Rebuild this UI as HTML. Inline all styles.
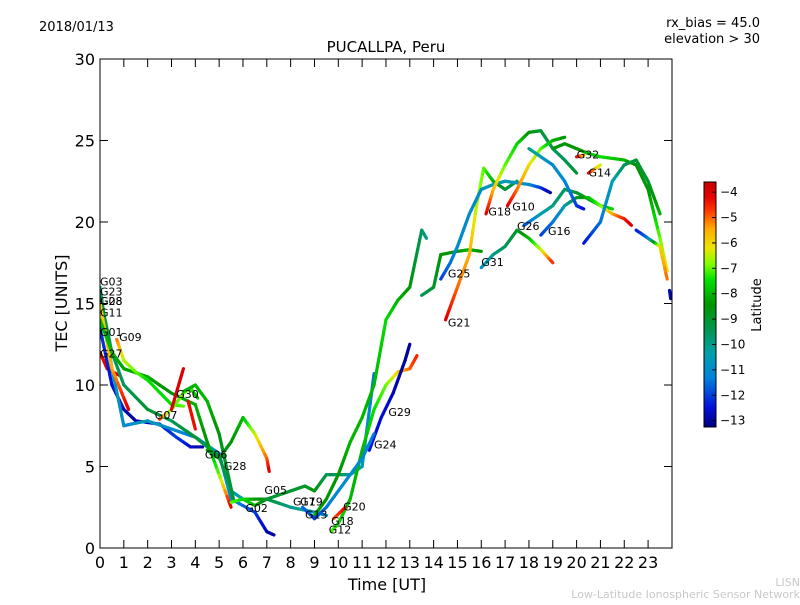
<!DOCTYPE html>
<html><head><meta charset="utf-8"><style>
body{margin:0;background:#fff;}
svg text{font-family:"DejaVu Sans","Liberation Sans",sans-serif;}
</style></head><body>
<svg id="chart" width="800" height="600" xmlns="http://www.w3.org/2000/svg">
<defs>
<linearGradient id="jet" x1="0" y1="1" x2="0" y2="0"></linearGradient>
<clipPath id="pc"><rect x="100" y="59" width="572" height="489"/></clipPath>
</defs>
<rect width="800" height="600" fill="#fff"/>
<text x="39" y="31" font-size="13">2018/01/13</text>
<text x="760" y="27" font-size="13" text-anchor="end">rx_bias = 45.0</text>
<text x="760" y="43" font-size="13" text-anchor="end">elevation &gt; 30</text>
<text x="386" y="52" font-size="15" text-anchor="middle">PUCALLPA, Peru</text>
<g id="marks" clip-path="url(#pc)"></g>
<g id="labels"></g>
<rect x="100" y="59" width="572" height="489" fill="none" stroke="#000" stroke-width="1"/>
<g id="axes"></g>
<text x="387" y="590" font-size="16" text-anchor="middle">Time [UT]</text>
<text transform="translate(67,303) rotate(-90)" font-size="16" text-anchor="middle">TEC [UNITS]</text>
<rect x="704" y="182" width="12" height="245" fill="url(#jet)" stroke="#000" stroke-width="1"/>
<g id="cbticks"></g>
<text transform="translate(761,305) rotate(-90)" font-size="13" text-anchor="middle">Latitude</text>
<text x="800" y="586" font-size="11" fill="#c8c8c8" text-anchor="end">LISN</text>
<text x="800" y="598" font-size="11" fill="#c8c8c8" text-anchor="end">Low-Latitude Ionospheric Sensor Network</text>
</svg>
<script>
const xTicks=[0,1,2,3,4,5,6,7,8,9,10,11,12,13,14,15,16,17,18,19,20,21,22,23];
const yTicks=[0,5,10,15,20,25,30];
const cbTicks=[-4,-5,-6,-7,-8,-9,-10,-11,-12,-13];
const latMin=-13.25, latMax=-3.6;
const tracks=[
{t:[0,0.3,0.8],v:[12,11,10.6],lat:[-4.5,-4,-4]},
{t:[0,0.5,1,1.5,2.5,3.2,3.8,4.3],v:[13.5,10,8.5,7.8,7.6,6.8,6.2,6.2],lat:[-12,-12.5,-12.8,-13,-12.5,-12,-12.5,-13]},
{t:[0,0.5,1,1.3,2,3,4,5,5.5,6.5,7,7.3],v:[16,11,7.5,7.6,7.8,7.3,6.8,5.8,3,2.2,1,0.8],lat:[-10,-10.5,-11,-11,-10.5,-11,-11.5,-10.5,-11,-12,-12.8,-13]},
{t:[0,0.5,1,2,3,4,4.5,5,5.5,6],v:[15.5,12,10,8.5,7.8,6.8,6.2,5.6,3.5,3],lat:[-9,-9.5,-9.5,-9,-9.5,-9,-9.5,-9,-10,-10.5]},
{t:[0,0.5,1,1.2],v:[15,11,9.2,8.5],lat:[-6,-5.5,-4.5,-4]},
{t:[0,0.5,1,2,3,4,4.5,5,5.5],v:[14,12,11,10.5,9.5,8.8,6.5,4.5,2.5],lat:[-8,-8,-8.3,-8.2,-8.5,-8,-8.5,-7,-4]},
{t:[0.7,1,1.5,2,3,3.5],v:[12.8,11.5,10.8,10.3,8.8,8.7],lat:[-5,-6.5,-7,-7.5,-7.5,-7]},
{t:[2.5,3,3.5,3.8,4.1],v:[7.9,8.5,9.5,9.8,9.2],lat:[-4.5,-7,-7,-7,-8]},
{t:[3,3.5],v:[8.5,11],lat:[-4,-4]},
{t:[3.7,4],v:[9,7.3],lat:[-4.3,-4.3]},
{t:[4.5,5,5.5,6,6.5,7,7.1],v:[6,5.5,6.5,8,7,5.5,4.7],lat:[-8.5,-9,-8.5,-8,-6.5,-5,-4]},
{t:[3.5,4,4.5,5,5.3,5.6],v:[9.6,10,9,7,5,3],lat:[-8,-8,-8,-8.5,-9,-9]},
{t:[6,7,8,8.6,9,9.5,10,10.5,11,11.5],v:[3,3,3.5,3.8,3.5,4.5,4.5,4.5,5,10.7],lat:[-7.5,-9,-9,-9,-8.5,-9.5,-9.5,-10,-10.5,-11.5]},
{t:[5.5,6,6.5,7,8,9,9.5],v:[2.8,3,2.6,3,2.5,2.2,2],lat:[-7,-7.5,-8,-9,-10,-10.5,-11]},
{t:[9,9.5,10,10.5,11,11.5,12,12.5,13,13.5,13.7],v:[2,3,4.5,6.5,8,10,14,15.2,16,19.5,19],lat:[-8,-8.5,-8.5,-8,-8,-8,-7.5,-8,-8.5,-9.5,-10]},
{t:[9.7,10,10.5,11,11.5,12,12.5,13,13.3],v:[1,1.5,3,6,8.5,10,10.8,11,11.8],lat:[-7,-7.5,-8,-8,-7.5,-7,-6,-5,-4.5]},
{t:[11.3,11.8,12.3,12.8,13],v:[6,8,9.5,11.5,12.5],lat:[-12.5,-12.5,-12.8,-13,-13]},
{t:[8.5,9,9.5,10,11,11.5],v:[2.5,1.8,2.5,3.5,5.5,7],lat:[-11.5,-12,-11.5,-11,-11,-11.5]},
{t:[9.8,10.3],v:[1.8,2.5],lat:[-5,-4.2]},
{t:[13.5,14,14.3,15,15.5,16],v:[15.5,16,18,18.2,18.3,18.2],lat:[-9.5,-9,-8.5,-8.5,-8,-8.5]},
{t:[14.5,15,15.5,15.8,16.1,16.5,17,17.5],v:[14,16,18,21,23.3,22.5,22,22.5],lat:[-4,-5,-5.5,-6.5,-7,-8,-9,-9.5]},
{t:[14.3,14.7,15,15.5,16,16.5,17,18,18.5,18.9],v:[16.5,17.5,18.5,20.5,22,22.3,22.5,22.3,22.1,21.8],lat:[-12,-11.5,-11,-11,-11,-10.5,-10.5,-11,-12,-13]},
{t:[16,16.5,17,17.5,18,18.5,19],v:[17.2,18,18.5,19.5,19,18.3,17.5],lat:[-11,-10,-9.5,-9,-8,-6.5,-4.5]},
{t:[16.2,16.5,17,17.5,18,18.5,19,19.5,20],v:[20.5,22,23.5,24.8,25.5,25.6,24.5,23.8,23],lat:[-4,-5.5,-7,-7.5,-8.5,-9,-9.5,-9.5,-9]},
{t:[17.1,17.5,18,18.5,19,19.5],v:[21,22,23.5,24.5,25,25.2],lat:[-4,-5,-6,-7,-8,-8.5]},
{t:[17.8,18,18.5,19,19.5,20,21,21.5],v:[19.8,20,20.5,21,22,21.8,21,20.8],lat:[-12,-11.5,-10.5,-10,-9.5,-9,-8.5,-7.5]},
{t:[18.5,19,19.5,20,20.5,21,21.5,22,22.3],v:[19.2,20,21,21.5,21.5,21,20.5,20.2,19.8],lat:[-12,-11.5,-10.5,-9,-8,-7,-5.5,-4.5,-4]},
{t:[20,20.3],v:[24,24.1],lat:[-4,-5.5]},
{t:[20.5,21],v:[23,23.5],lat:[-4,-6.5]},
{t:[19,19.5,20,20.5,21,22,22.5,23,23.5,23.8],v:[24.5,24.8,24.5,24.2,24,23.8,23.5,22,19,17],lat:[-8.5,-8.5,-8.5,-8,-7.5,-8,-8.5,-8.5,-7,-6]},
{t:[18,18.5,19,19.5,20,20.3],v:[24.5,24,23.5,22.5,21,20.8],lat:[-10,-10.5,-11,-11,-12,-12.5]},
{t:[20.3,21,21.5,22,22.5,23,23.5],v:[18.7,20,22.5,23.5,23.8,22.5,20.5],lat:[-12.5,-11.5,-10.5,-9.5,-9,-9,-8]},
{t:[22.5,23,23.5,23.8],v:[19.5,19,18.5,16.5],lat:[-12.5,-11.5,-6,-5]},
{t:[23.9,23.95],v:[15.8,15.3],lat:[-12.8,-13]}
];
const satNames=["G03","G23","G08","G28","G11","G01","G09","G27","G30","G07","G06","G28","G05","G02","G17","G19","G13","G20","G18","G12","G29","G24","G21","G25","G31","G18","G10","G26","G16","G32","G14"];
const satT=[0,0,0,0,0,0,0.8,0,3.2,2.3,4.4,5.2,6.9,6.1,8.1,8.4,8.6,10.2,9.7,9.6,12.1,11.5,14.6,14.6,16,16.3,17.3,17.5,18.8,20,20.5];
const satV=[16.1,15.5,14.9,14.9,14.2,13.0,12.7,11.7,9.2,7.9,5.5,4.8,3.3,2.2,2.6,2.6,1.8,2.3,1.4,0.9,8.1,6.1,13.6,16.6,17.3,20.4,20.7,19.5,19.2,23.9,22.8];

const X=t=>100+t*23.83;
const Y=v=>548-v*16.3;
const NS="http://www.w3.org/2000/svg";
// colormap stops (fraction, rgb) approximating the reference colorbar
const cmF=[0,0.08,0.2,0.3,0.4,0.5,0.6,0.66,0.73,0.81,0.88,0.94,1];
const cmC=[[0,0,128],[0,16,220],[0,130,220],[0,160,170],[0,150,80],[0,150,0],[0,225,0],[120,255,0],[235,230,0],[255,170,0],[255,60,0],[230,0,0],[200,0,0]];
function cmap(f){
  f=Math.max(0,Math.min(1,f));
  for(let i=0;i<cmF.length-1;i++){
    if(f<=cmF[i+1]){
      const a=(f-cmF[i])/(cmF[i+1]-cmF[i]);
      const c=cmC[i].map((x,j)=>Math.round(x+(cmC[i+1][j]-x)*a));
      return `rgb(${c[0]},${c[1]},${c[2]})`;
    }
  }
  return 'rgb(200,0,0)';
}
const jet=lat=>cmap((lat-latMin)/(latMax-latMin));
const grad=document.getElementById('jet');
cmF.forEach((f,i)=>{
  const s=document.createElementNS(NS,'stop');
  s.setAttribute('offset',f);
  s.setAttribute('stop-color',`rgb(${cmC[i].join(',')})`);
  grad.appendChild(s);
});
const marks=document.getElementById('marks');
tracks.forEach((tr,i)=>{
  const g=document.createElementNS(NS,'g');
  
  
  for(let k=0;k<tr.t.length-1;k++){
    const n=6;
    for(let s=0;s<n;s++){
      const a=s/n,b=(s+1)/n;
      const t1=tr.t[k]+(tr.t[k+1]-tr.t[k])*a,t2=tr.t[k]+(tr.t[k+1]-tr.t[k])*b;
      const v1=tr.v[k]+(tr.v[k+1]-tr.v[k])*a,v2=tr.v[k]+(tr.v[k+1]-tr.v[k])*b;
      const l=tr.lat[k]+(tr.lat[k+1]-tr.lat[k])*(a+b)/2;
      const ln=document.createElementNS(NS,'line');
      ln.setAttribute('x1',X(t1));ln.setAttribute('y1',Y(v1));
      ln.setAttribute('x2',X(t2));ln.setAttribute('y2',Y(v2));
      ln.setAttribute('stroke',jet(l));ln.setAttribute('stroke-width','3.2');
      ln.setAttribute('stroke-linecap','round');
      g.appendChild(ln);
    }
  }
  marks.appendChild(g);
});
const labels=document.getElementById('labels');
satNames.forEach((nm,i)=>{
  const tx=document.createElementNS(NS,'text');
  tx.setAttribute('x',X(satT[i]));tx.setAttribute('y',Y(satV[i]));
  tx.setAttribute('font-size','11');tx.textContent=nm;
  
  
  labels.appendChild(tx);
});
const axes=document.getElementById('axes');
function add(tag,attrs,txt){const e=document.createElementNS(NS,tag);for(const k in attrs)e.setAttribute(k,attrs[k]);if(txt!==undefined)e.textContent=txt;axes.appendChild(e);return e;}
xTicks.forEach(t=>{
  const x=X(t);
  add('line',{x1:x,y1:548,x2:x,y2:540,stroke:'#000'});
  add('line',{x1:x,y1:59,x2:x,y2:67,stroke:'#000'});
  const e=add('text',{x:x,y:568,'font-size':16,'text-anchor':'middle'},String(t));
  
  
});
yTicks.forEach(v=>{
  const y=Y(v);
  add('line',{x1:100,y1:y,x2:108,y2:y,stroke:'#000'});
  add('line',{x1:672,y1:y,x2:664,y2:y,stroke:'#000'});
  const e=add('text',{x:95,y:y+6,'font-size':16,'text-anchor':'end'},String(v));
  
  
});
const cb=document.getElementById('cbticks');
cbTicks.forEach(l=>{
  const y=427-(l-latMin)/(latMax-latMin)*245;
  const ln=document.createElementNS(NS,'line');
  ln.setAttribute('x1',712);ln.setAttribute('x2',716);ln.setAttribute('y1',y);ln.setAttribute('y2',y);ln.setAttribute('stroke','#000');
  cb.appendChild(ln);
  const e=document.createElementNS(NS,'text');
  e.setAttribute('x',720);e.setAttribute('y',y+4);e.setAttribute('font-size','12');
  e.textContent='\u2212'+Math.abs(l);
  
  
  cb.appendChild(e);
});
</script>
</body></html>
